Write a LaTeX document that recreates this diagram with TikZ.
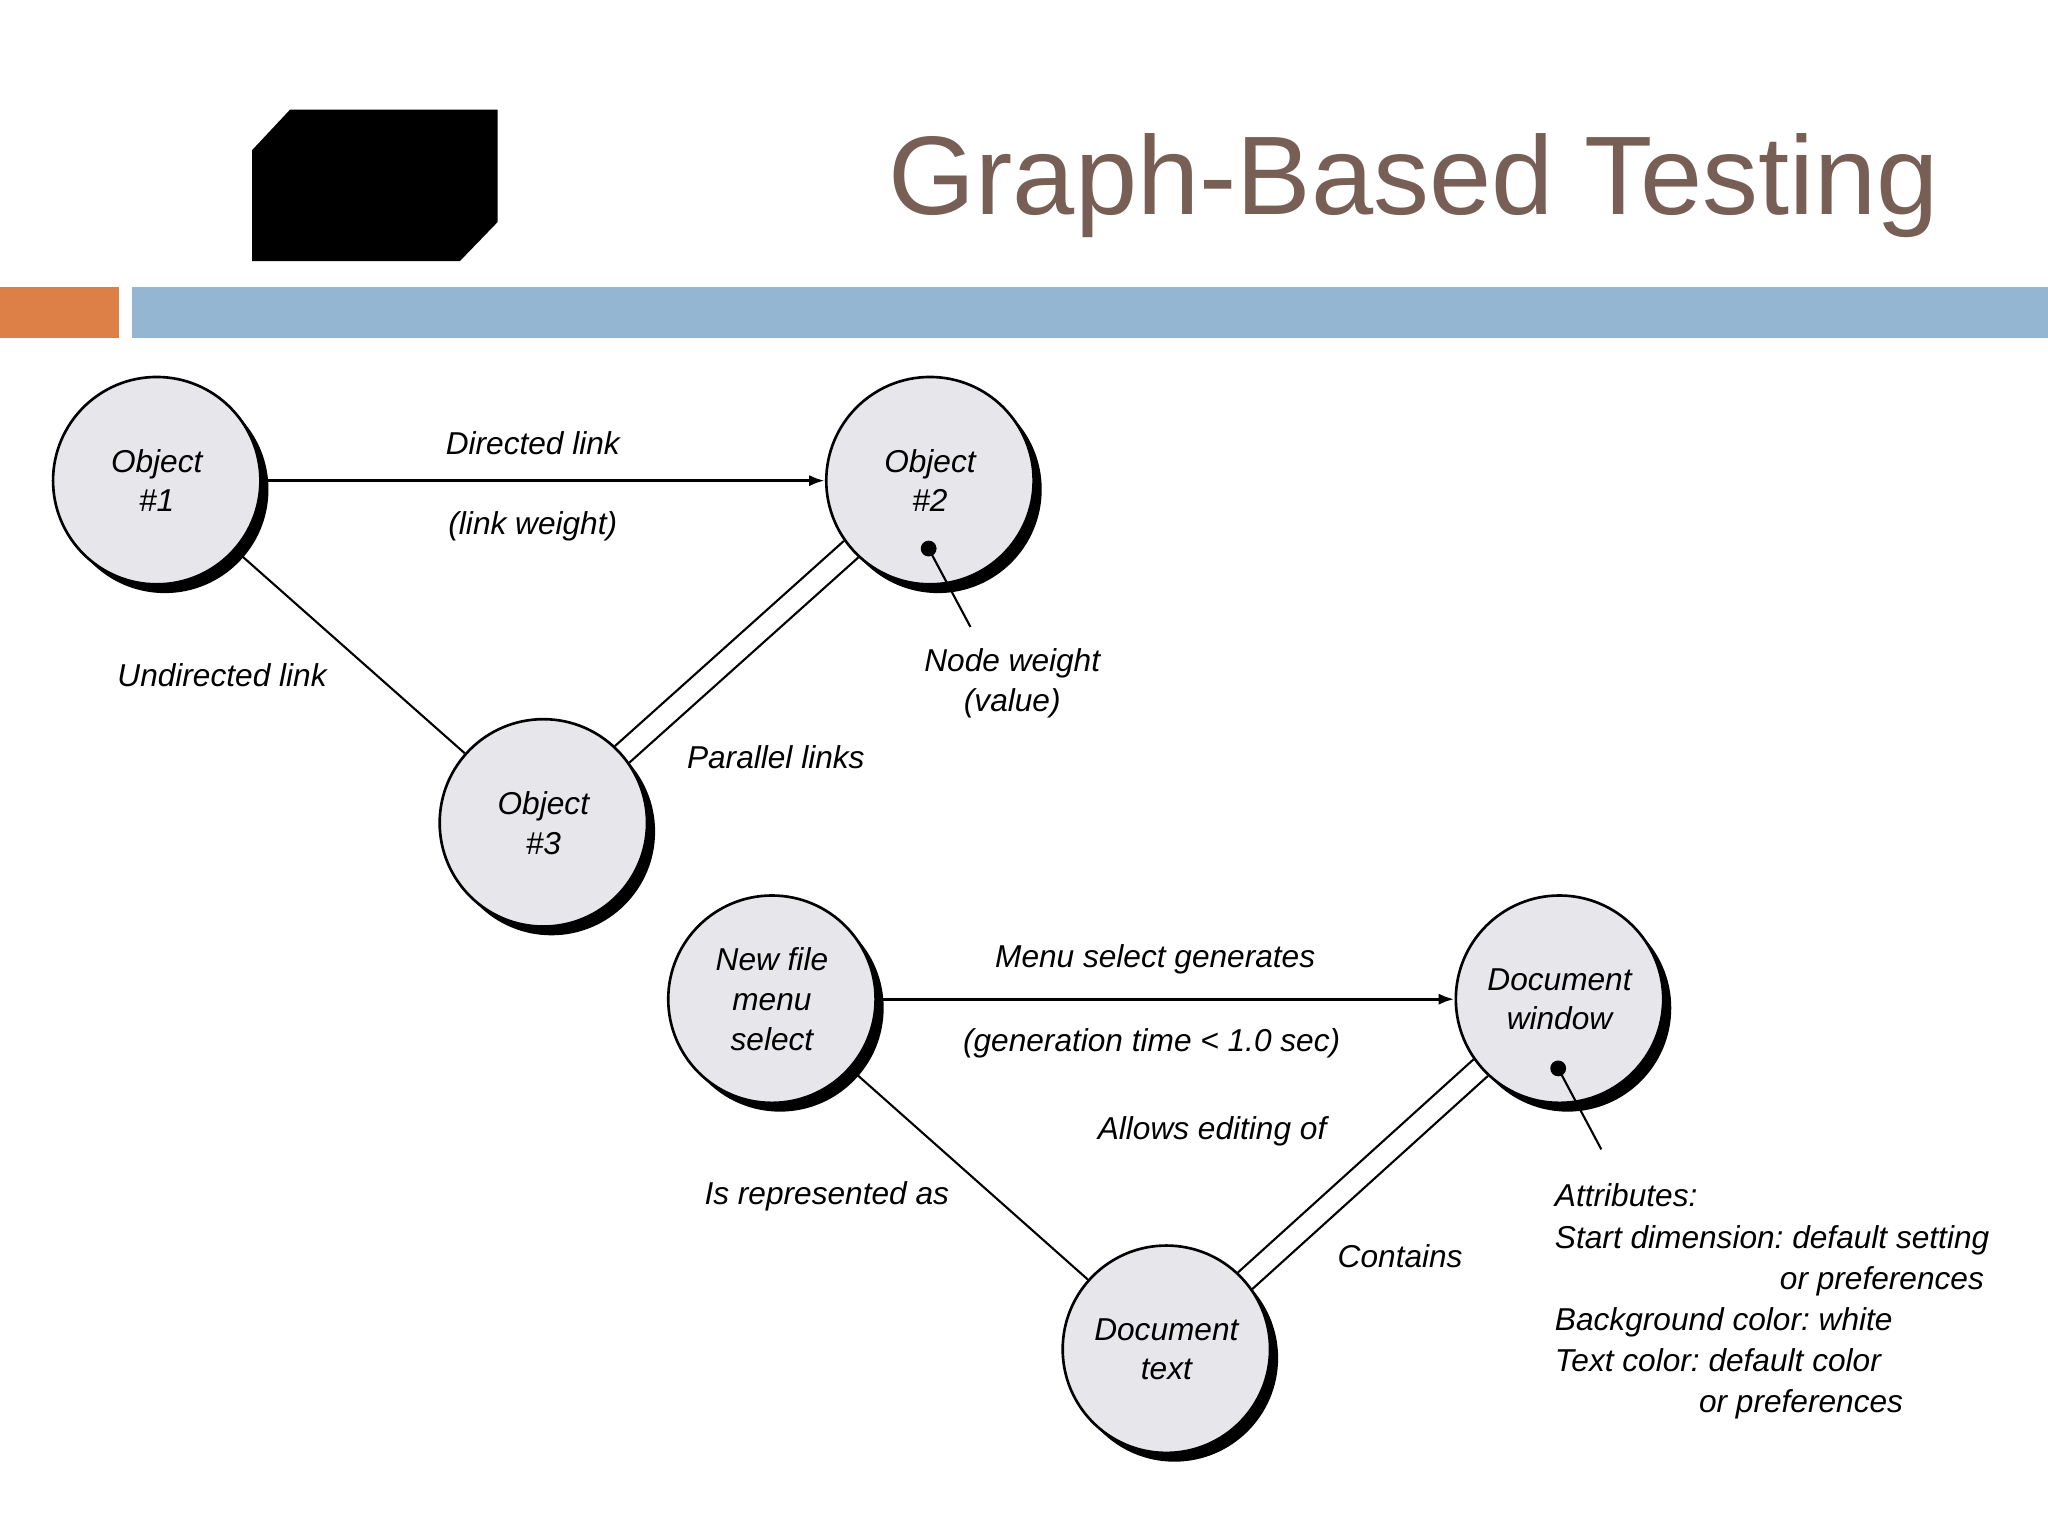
\documentclass[tikz,border=0pt]{standalone}
\usepackage{fontspec}
\setmainfont{Liberation Sans}
\usetikzlibrary{arrows.meta,positioning,shadows}
\definecolor{titlebrown}{HTML}{775F55}
\definecolor{barblue}{HTML}{94B6D2}
\definecolor{barorange}{HTML}{DD8047}
\definecolor{nodegray}{RGB}{230,230,235}
\frenchspacing

\begin{document}
\begin{tikzpicture}[x=0.013061cm, y=-0.013061cm, >={Latex[length=4.5pt,width=3.2pt]},
  every node/.style={font=\fontsize{9}{11.3}\selectfont\itshape},
  obj/.style={draw,circle,minimum size=59pt,inner sep=0pt,fill=nodegray,line width=0.75pt,align=center,
    drop shadow={shadow xshift=2.3pt,shadow yshift=-2.5pt,fill=black,opacity=1}},
  dot/.style={circle,fill=black,inner sep=0pt,minimum size=4.5pt},
  link/.style={line width=0.6pt}]
\useasboundingbox (0,0) rectangle (1568,1176);
\fill (193,115) -- (222,84) -- (381,84) -- (381,170) -- (352,200) -- (193,200) -- cycle;
\node[anchor=base west,text=titlebrown,font=\fontsize{31.8}{36}\selectfont] (title) at (671,164) {Graph-Based Testing};
\fill[barorange] (0,220) rectangle (91,259);
\fill[barblue] (101,220) rectangle (1568,259);

\node[obj] (o1) at (120,368) {Object\\\#1};
\node[obj] (o2) at (712,368) {Object\\\#2};
\node[obj] (o3) at (416,630) {Object\\\#3};
\draw[->,line width=0.9pt] (o1) -- node[above=3.5pt,xshift=-3pt] (dl) {Directed link} node[below=5pt,xshift=-3pt] (lw) {(link weight)} (o2);
\draw[link] (o1) -- (o3);
\draw[link] (o3.47.5) -- (o2.215.5);
\draw[link] (o3.35.5) -- (o2.227.5);
\node[dot] (d2) at (711,420) {};
\coordinate (e2) at (743,480);
\draw[link] (d2.center) -- (e2);
\node (ul) at (170,517) {Undirected link};
\node[align=center] (nw) at (775,523) {Node weight\\(value)};
\node (pl) at (594,580) {Parallel links};

\node[obj] (n1) at (591,765) {New file\\menu\\select};
\node[obj] (n2) at (1194,765) {Document\\window};
\node[obj] (n3) at (893,1033) {Document\\text};
\draw[->,line width=0.9pt] (n1) -- node[above=3.5pt,xshift=-3pt] (ms) {Menu select generates} node[below=4.5pt,xshift=-4pt] (gt) {(generation time < 1.0 sec)} (n2);
\draw[link] (n1) -- (n3);
\draw[link] (n3.47.5) -- (n2.215.5);
\draw[link] (n3.35.5) -- (n2.227.5);
\node[dot] (d5) at (1193,818) {};
\coordinate (e5) at (1226,880);
\draw[link] (d5.center) -- (e5);
\node (ae) at (928,866) {Allows editing of};
\node (ir) at (633,916) {Is represented as};
\node (ct) at (1072,962) {Contains};
\node[anchor=north west,align=left,inner sep=0pt,font=\fontsize{9}{11.7}\selectfont\itshape] (at) at (1190,906) {Attributes:\\Start dimension: default setting\\\hspace*{64pt}or preferences\\Background color: white\\Text color: default color\\\hspace*{41pt}or preferences};
\end{tikzpicture}
\end{document}
